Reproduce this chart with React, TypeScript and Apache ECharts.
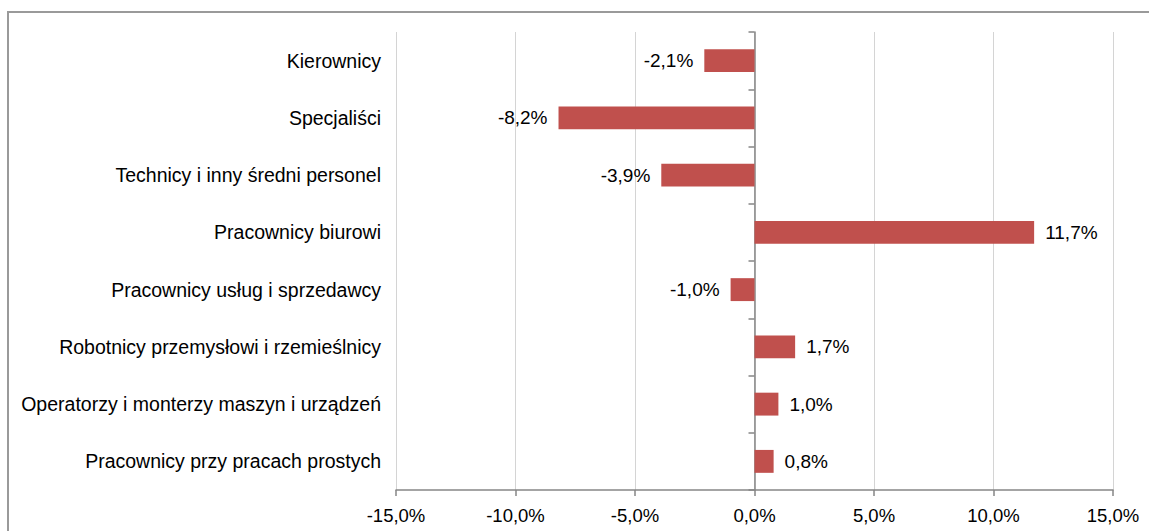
import React, { useEffect, useRef } from "react";
import * as echarts from "echarts";

const categories = [
  "Kierownicy",
  "Specjaliści",
  "Technicy i inny średni personel",
  "Pracownicy biurowi",
  "Pracownicy usług i sprzedawcy",
  "Robotnicy przemysłowi i rzemieślnicy",
  "Operatorzy i monterzy maszyn i urządzeń",
  "Pracownicy przy pracach prostych",
];
const values = [-2.1, -8.2, -3.9, 11.7, -1.0, 1.7, 1.0, 0.8];
const axisMin = -15;
const axisMax = 15;
const axisStep = 5;

const fmt = (v: number) => v.toFixed(1).replace(".", ",") + "%";
const FONT = "'Liberation Sans', Arial, sans-serif";

export default function App() {
  const ref = useRef<HTMLDivElement>(null);
  useEffect(() => {
    if (!ref.current) return;
    const chart = echarts.init(ref.current, null, { renderer: "svg" });
    chart.setOption({
      animation: false,
      backgroundColor: "#ffffff",
      textStyle: { fontFamily: FONT },
      graphic: [
        {
          type: "rect",
          shape: { x: 8, y: 12, width: 1200, height: 600 },
          style: { fill: "none", stroke: "#9a9a9a", lineWidth: 2 },
          silent: true,
        },
      ],
      grid: { left: 396, right: 36, top: 32, bottom: 41, containLabel: false },
      xAxis: {
        type: "value",
        min: axisMin,
        max: axisMax,
        interval: axisStep,
        axisLine: { show: true, onZero: false, lineStyle: { color: "#868686", width: 1.5 } },
        axisTick: { show: true, length: 6, lineStyle: { color: "#868686", width: 1.5 } },
        splitLine: { show: true, lineStyle: { color: "#d4d4d4", width: 1 } },
        axisLabel: {
          formatter: (v: number) => fmt(v),
          color: "#000",
          fontSize: 18.5,
          fontFamily: FONT,
          margin: 16,
        },
      },
      yAxis: [
        {
          type: "category",
          data: categories,
          inverse: true,
          position: "left",
          axisLine: { show: false, onZero: false },
          axisTick: { show: false },
          splitLine: { show: false },
          axisLabel: { color: "#000", fontSize: 19.5, fontFamily: FONT, margin: 15 },
        },
        {
          type: "category",
          data: categories,
          inverse: true,
          position: "left",
          axisLine: { show: true, onZero: true, lineStyle: { color: "#868686", width: 1.5 } },
          axisTick: { show: true, inside: false, length: 6, lineStyle: { color: "#868686", width: 1.5 } },
          splitLine: { show: false },
          axisLabel: { show: false },
        },
      ],
      series: [
        {
          type: "bar",
          yAxisIndex: 0,
          barCategoryGap: "60%",
          data: values.map((v) => ({
            value: v,
            label: { position: v < 0 ? "left" : "right" },
          })),
          itemStyle: { color: "#C0504D" },
          label: {
            show: true,
            distance: 11,
            formatter: (p: any) => fmt(p.value),
            color: "#000",
            fontSize: 19,
            fontFamily: FONT,
          },
        },
      ],
    });
    return () => chart.dispose();
  }, []);
  return (
    <div
      ref={ref}
      style={{ position: "absolute", left: 0, top: 0, width: 1149, height: 531 }}
    />
  );
}
